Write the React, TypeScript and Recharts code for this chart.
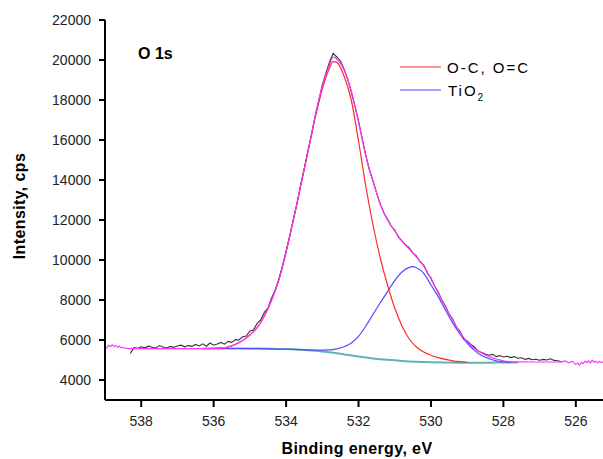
import React from "react";
import { LineChart, Line, XAxis, YAxis } from "recharts";

type Pt = { e: number; v: number };
const toPts = (rows: number[][]): Pt[] => rows.map(([e, v]) => ({ e, v }));

// binding energy ticks (eV) and intensity ticks (cps)
const xMajor = [538, 536, 534, 532, 530, 528, 526];
const xMinor = [537, 535, 533, 531, 529, 527];
const yMajor = [4000, 6000, 8000, 10000, 12000, 14000, 16000, 18000, 20000, 22000];
const yMinor = [5000, 7000, 9000, 11000, 13000, 15000, 17000, 19000, 21000];

// measured spectrum, [eV, cps]
const rawSpectrum = [
  [538.3, 5330], [538.2, 5620], [538.1, 5580], [538.0, 5660], [537.9, 5610], [537.8, 5690],
  [537.7, 5640], [537.6, 5600], [537.5, 5720], [537.4, 5650], [537.3, 5600], [537.2, 5680],
  [537.1, 5630], [537.0, 5700], [536.9, 5740], [536.8, 5660], [536.7, 5720], [536.6, 5680],
  [536.5, 5780], [536.4, 5700], [536.3, 5810], [536.2, 5690], [536.1, 5850], [536.0, 5740],
  [535.9, 5800], [535.8, 5880], [535.7, 5790], [535.6, 5930], [535.5, 5880], [535.4, 6020],
  [535.3, 6000], [535.2, 6160], [535.1, 6200], [535.0, 6450], [534.9, 6500], [534.8, 6830],
  [534.7, 7000], [534.6, 7380], [534.5, 7600], [534.4, 8100], [534.3, 8500], [534.2, 9050],
  [534.1, 9700], [534.0, 10450], [533.9, 11200], [533.8, 12050], [533.7, 12800], [533.6, 13750],
  [533.5, 14550], [533.4, 15450], [533.3, 16250], [533.2, 17200], [533.1, 17950], [533.0, 18750],
  [532.9, 19350], [532.8, 19900], [532.7, 20330], [532.6, 20150], [532.5, 19950], [532.4, 19550],
  [532.3, 19050], [532.2, 18400], [532.1, 17700], [532.0, 16950], [531.9, 16100], [531.8, 15250],
  [531.7, 14500], [531.6, 13950], [531.5, 13350], [531.4, 12800], [531.3, 12350], [531.2, 12050],
  [531.1, 11700], [531.0, 11500], [530.9, 11150], [530.8, 10950], [530.7, 10750], [530.6, 10600],
  [530.5, 10350], [530.4, 10200], [530.3, 9900], [530.2, 9750], [530.1, 9350], [530.0, 9100],
  [529.9, 8700], [529.8, 8400], [529.7, 8000], [529.6, 7700], [529.5, 7300], [529.4, 7050],
  [529.3, 6650], [529.2, 6450], [529.1, 6050], [529.0, 5950], [528.9, 5780], [528.8, 5650],
  [528.7, 5450], [528.6, 5380], [528.5, 5300], [528.4, 5240], [528.3, 5280], [528.2, 5170],
  [528.1, 5220], [528.0, 5150], [527.9, 5190], [527.8, 5120], [527.7, 5170], [527.6, 5090],
  [527.5, 5110], [527.4, 5030], [527.3, 5080], [527.2, 5010], [527.1, 5040], [527.0, 4990],
  [526.9, 5030], [526.8, 5000], [526.7, 5060], [526.6, 4980], [526.5, 4960], [526.4, 4910],
];

// fitted envelope (sum of components)
const envelope = [
  [539.0, 5700], [538.95, 5610], [538.9, 5740], [538.85, 5660], [538.8, 5760], [538.75, 5680],
  [538.7, 5720], [538.65, 5640], [538.6, 5690], [538.55, 5610], [538.5, 5620], [538.4, 5580],
  [538.2, 5570], [537.5, 5570], [537.0, 5570], [536.5, 5570], [536.0, 5575], [535.8, 5590],
  [535.6, 5660], [535.4, 5790], [535.2, 5980], [535.0, 6260], [534.8, 6620], [534.6, 7200],
  [534.4, 8000], [534.2, 9000], [534.0, 10400], [533.8, 12000], [533.6, 13700], [533.4, 15400],
  [533.2, 17150], [533.0, 18700], [532.8, 19750], [532.7, 20150], [532.6, 20050], [532.4, 19500],
  [532.2, 18450], [532.0, 16900], [531.8, 15200], [531.6, 13950], [531.4, 12800], [531.2, 12000],
  [531.0, 11450], [530.8, 10950], [530.6, 10550], [530.4, 10150], [530.2, 9700], [530.0, 9050],
  [529.8, 8350], [529.6, 7650], [529.4, 7000], [529.2, 6380], [529.0, 5900], [528.8, 5580],
  [528.6, 5350], [528.4, 5170], [528.2, 5050], [528.0, 4960], [527.8, 4920], [527.6, 4905],
  [527.2, 4900], [526.8, 4900], [526.4, 4900], [526.3, 4960], [526.2, 4860], [526.1, 4930],
  [526.0, 4790], [525.95, 4850], [525.9, 4740], [525.85, 4880], [525.8, 4820], [525.75, 4950],
  [525.7, 4870], [525.65, 4960], [525.6, 4850], [525.55, 5000], [525.5, 4890], [525.45, 4940],
  [525.4, 4860], [525.35, 4930], [525.3, 4880], [525.25, 4910],
];

// O-C, O=C component
const peakOC = [
  [536.2, 5575], [536.0, 5580], [535.8, 5595], [535.6, 5650], [535.4, 5780], [535.2, 5970],
  [535.0, 6250], [534.8, 6610], [534.6, 7190], [534.4, 7990], [534.2, 8990], [534.0, 10390],
  [533.8, 11980], [533.6, 13680], [533.4, 15370], [533.2, 17080], [533.0, 18550], [532.8, 19600],
  [532.7, 19920], [532.6, 19880], [532.4, 19200], [532.2, 18000], [532.0, 15950], [531.8, 13700],
  [531.6, 11750], [531.4, 10100], [531.2, 8750], [531.0, 7600], [530.8, 6700], [530.6, 6050],
  [530.4, 5650], [530.2, 5400], [530.0, 5240], [529.8, 5120], [529.6, 5030], [529.4, 4960],
  [529.2, 4920], [529.0, 4900],
];

// TiO2 component
const peakTiO2 = [
  [536.0, 5580], [535.4, 5575], [534.8, 5565], [534.2, 5545], [533.6, 5520], [533.2, 5495],
  [532.8, 5505], [532.6, 5560], [532.4, 5660], [532.2, 5850], [532.0, 6180], [531.8, 6700],
  [531.6, 7280], [531.4, 7860], [531.2, 8420], [531.0, 8970], [530.8, 9400], [530.6, 9630],
  [530.5, 9665], [530.4, 9610], [530.2, 9330], [530.0, 8750], [529.8, 8170], [529.6, 7500],
  [529.4, 6850], [529.2, 6300], [529.0, 5850], [528.8, 5480], [528.6, 5220], [528.4, 5060],
  [528.2, 4960], [528.0, 4910], [527.8, 4890],
];

// Shirley background
const background = [
  [536.3, 5575], [535.5, 5575], [534.8, 5572], [534.4, 5565], [534.0, 5545], [533.6, 5510],
  [533.2, 5460], [532.8, 5385], [532.4, 5280], [532.0, 5170], [531.6, 5080], [531.2, 5010],
  [530.8, 4955], [530.4, 4915], [530.0, 4890], [529.6, 4875], [529.2, 4866], [528.8, 4864],
  [528.4, 4868], [528.0, 4875], [527.6, 4880],
];

const tickFont = { fontSize: 14, fill: "#222", fontFamily: "Liberation Sans, Arial, sans-serif" };
const axisStroke = { stroke: "#000", strokeWidth: 2 };

export default function App() {
  return (
    <div style={{ position: "absolute", left: 0, top: 0, width: 603, height: 459, background: "#fff" }}>
      <LineChart width={603} height={459} margin={{ top: 20, right: 0, bottom: 0, left: 0 }}>
        <XAxis xAxisId="minor" type="number" dataKey="e" domain={[525.25, 539]} reversed allowDataOverflow
          ticks={xMinor} interval={0} tick={false} tickSize={4} axisLine={false} tickLine={axisStroke} height={0} />
        <XAxis xAxisId="main" type="number" dataKey="e" domain={[525.25, 539]} reversed allowDataOverflow
          ticks={xMajor} interval={0} tick={tickFont} tickSize={7} tickMargin={9} axisLine={axisStroke}
          tickLine={axisStroke} height={59} />
        <XAxis xAxisId="top" orientation="top" type="number" dataKey="e" domain={[525.25, 539]} reversed
          allowDataOverflow tick={false} tickLine={false} axisLine={axisStroke} height={0} />
        <YAxis yAxisId="minor" type="number" domain={[3000, 22000]} allowDataOverflow ticks={yMinor}
          interval={0} tick={false} tickSize={3} axisLine={false} tickLine={axisStroke} width={0} />
        <YAxis yAxisId="main" type="number" domain={[3000, 22000]} allowDataOverflow ticks={yMajor}
          interval={0} tick={tickFont} tickSize={6} tickMargin={8} axisLine={axisStroke}
          tickLine={axisStroke} width={105} />
        <Line xAxisId="main" yAxisId="main" data={toPts(background)} dataKey="v" type="monotone"
          stroke="#5fb3b3" strokeWidth={2} dot={false} activeDot={false} isAnimationActive={false} />
        <Line xAxisId="main" yAxisId="main" data={toPts(peakTiO2)} dataKey="v" type="monotone"
          stroke="#4d4dff" strokeWidth={1.2} dot={false} activeDot={false} isAnimationActive={false} />
        <Line xAxisId="main" yAxisId="main" data={toPts(peakOC)} dataKey="v" type="monotone"
          stroke="#ff2a2a" strokeWidth={1.2} dot={false} activeDot={false} isAnimationActive={false} />
        <Line xAxisId="main" yAxisId="main" data={toPts(rawSpectrum)} dataKey="v" type="linear"
          stroke="#333" strokeWidth={1.1} dot={false} activeDot={false} isAnimationActive={false} />
        <Line xAxisId="main" yAxisId="main" data={toPts(envelope)} dataKey="v" type="monotone"
          stroke="#ff33ff" strokeWidth={1.2} dot={false} activeDot={false} isAnimationActive={false} />
      </LineChart>
      <svg width={603} height={459} style={{ position: "absolute", left: 0, top: 0, pointerEvents: "none" }}
        fontFamily="Liberation Sans, Arial, sans-serif">
        <text x={138} y={59} fontSize={16} fontWeight="bold" fill="#000">O 1s</text>
        <line x1={400} y1={67} x2={441} y2={67} stroke="#ff2a2a" strokeWidth={1.2} />
        <text x={447} y={73} fontSize={15} letterSpacing={2} fill="#000">O-C, O=C</text>
        <line x1={400} y1={90} x2={441} y2={90} stroke="#4d4dff" strokeWidth={1.2} />
        <text x={448} y={96} fontSize={15} letterSpacing={2} fill="#000">
          TiO<tspan fontSize={10} dy={5}>2</tspan>
        </text>
        <text x={357} y={454} fontSize={16} fontWeight="bold" letterSpacing={0.4} textAnchor="middle" fill="#000">
          Binding energy, eV
        </text>
        <text x={25} y={206} fontSize={16} fontWeight="bold" letterSpacing={0.4} textAnchor="middle"
          transform="rotate(-90, 25, 206)" fill="#000">
          Intensity, cps
        </text>
      </svg>
    </div>
  );
}
